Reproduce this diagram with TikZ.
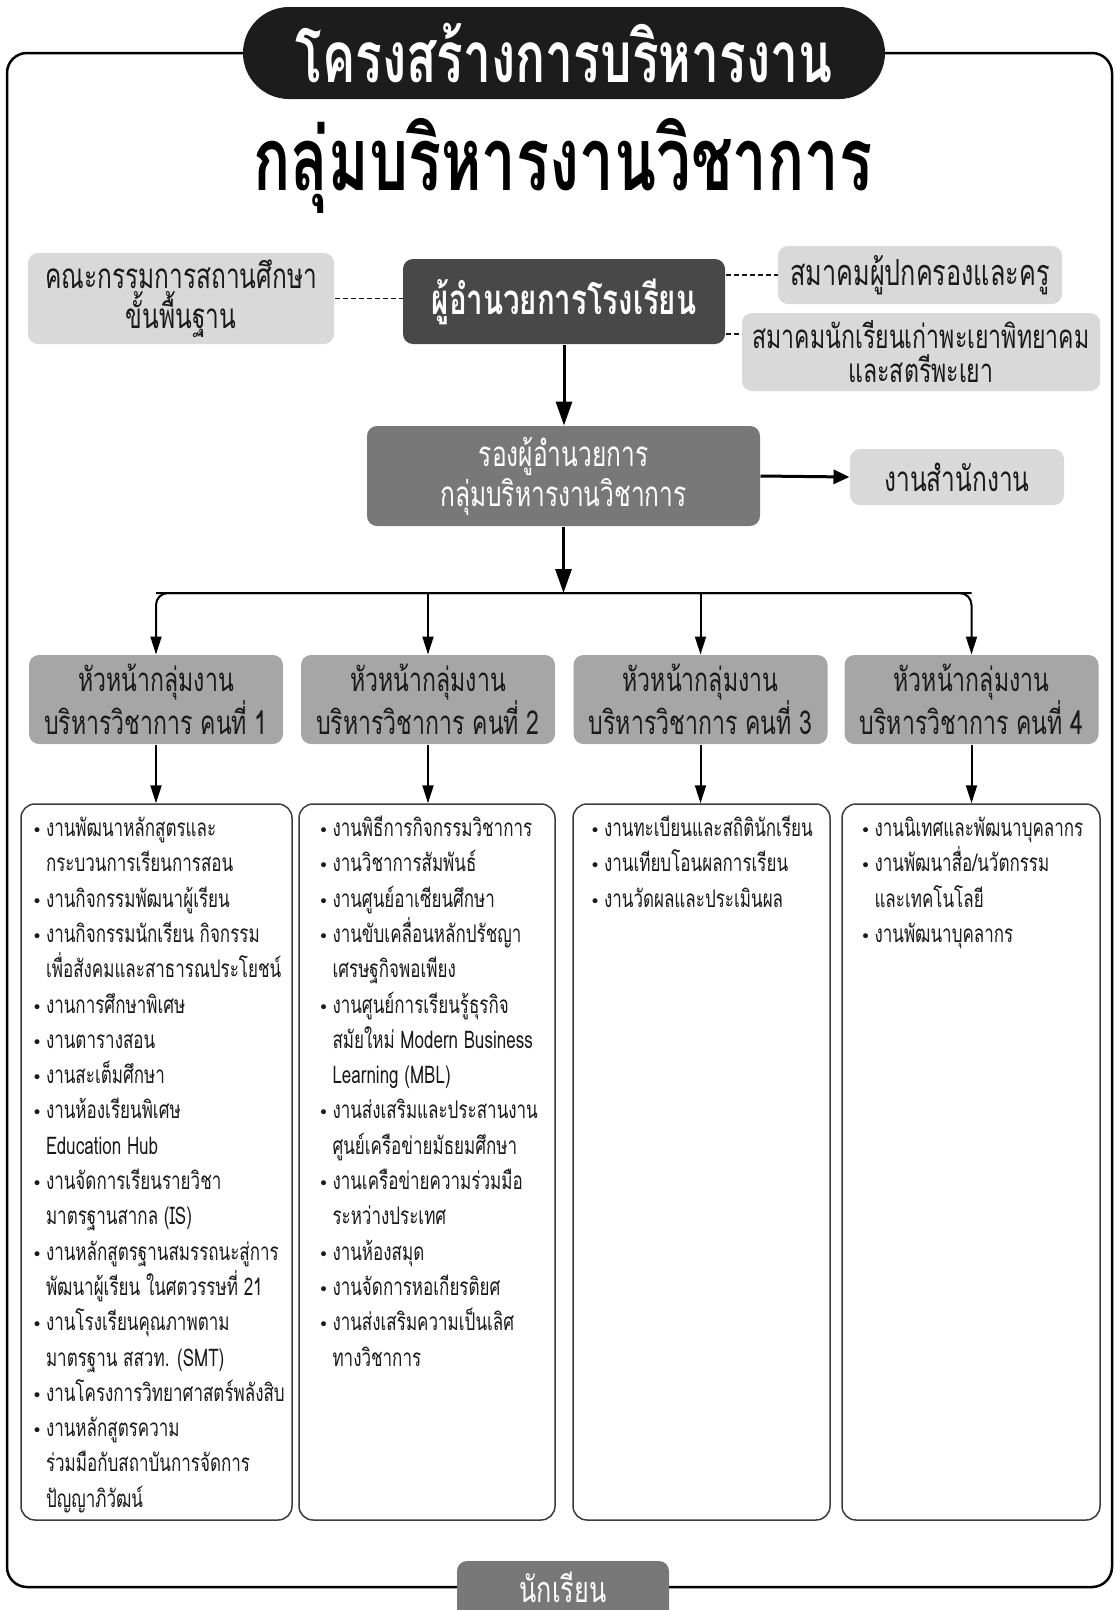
\documentclass[tikz,border=0pt]{standalone}
\usepackage{fontspec}
\setmainfont[Script=Thai,FakeStretch=0.7]{Loma}
\newfontfamily\bulfont{DejaVu Sans}
\usetikzlibrary{arrows.meta,calc}

\definecolor{titlefill}{HTML}{1C1C1C}
\definecolor{dirfill}{HTML}{484848}
\definecolor{depfill}{HTML}{787878}
\definecolor{headfill}{HTML}{A6A6A6}
\definecolor{lightfill}{HTML}{D9D9D9}
\definecolor{darktext}{HTML}{1A1A1A}
\definecolor{listline}{HTML}{3C3C3C}

\tikzset{every picture/.style={line width=1pt}}
\tikzset{
  frame/.style={draw=black, line width=2.5pt, rounded corners=20pt},
  titlepill/.style={fill=titlefill, text=white, rounded corners=46pt, minimum width=642pt, minimum height=92pt, font=\bfseries\fontsize{71}{80}\selectfont},
  subtitle/.style={text=black, font=\bfseries\fontsize{88}{96}\selectfont},
  lightbox/.style={fill=lightfill, text=darktext, rounded corners=10pt, align=center, font=\fontsize{35}{40}\selectfont},
  dirbox/.style={fill=dirfill, text=white, rounded corners=10pt, align=center, font=\bfseries\fontsize{42}{46}\selectfont},
  depbox/.style={fill=depfill, text=white, rounded corners=10pt, align=center, font=\fontsize{35}{40}\selectfont},
  headbox/.style={fill=headfill, text=darktext, rounded corners=10pt, align=center, minimum width=254pt, minimum height=89pt, font=\fontsize{33}{41}\selectfont},
  listbox/.style={draw=listline, line width=1.5pt, rounded corners=14pt, minimum height=716pt},
  listtxt/.style={anchor=north west, inner sep=0pt, align=left, text=darktext, font=\fontsize{24.3}{35.3}\selectfont},
  dashln/.style={draw=darktext, line width=1.5pt, dash pattern=on 5pt off 3pt},
  mainarr/.style={line width=3pt, -{Triangle[length=24pt,width=16pt]}},
  sidearr/.style={line width=3pt, -{Triangle[length=16pt,width=14pt]}},
  headarr/.style={line width=2pt, -{Triangle[length=18pt,width=11pt]}}
}

\newcommand{\itm}{\rule{0pt}{22pt}\makebox[14pt][l]{\bulfont\fontsize{17}{17}\selectfont •}}
\newcommand{\cnt}{\rule{0pt}{22pt}\hspace*{14pt}}

\begin{document}
\begin{tikzpicture}[x=1pt,y=1pt,yscale=-1,xscale=1]
        \useasboundingbox (0,0) rectangle (1116,1610);

        % outer frame
        \draw[frame] (7,53) rectangle (1112,1587);

        % titles
        \node[titlepill] (title) at (564,53) {โครงสร้างการบริหารงาน};
        \node[subtitle] (subtitle) at (563,166) {กลุ่มบริหารงานวิชาการ};

        % top row
        \node[lightbox, minimum width=306pt, minimum height=91pt] (board) at (181,298.5) {คณะกรรมการสถานศึกษา\\ขั้นพื้นฐาน};
        \node[dirbox, minimum width=322pt, minimum height=85pt] (dir) at (564,301.5) {ผู้อำนวยการโรงเรียน};
        \node[lightbox, minimum width=284pt, minimum height=58pt, font=\fontsize{36}{40}\selectfont] (parents) at (920,275) {สมาคมผู้ปกครองและครู};
        \node[lightbox, minimum width=358pt, minimum height=78pt, font=\fontsize{33}{34}\selectfont] (alumni) at (921,352) {สมาคมนักเรียนเก่าพะเยาพิทยาคม\\และสตรีพะเยา};

        % deputy and office
        \node[depbox, minimum width=393pt, minimum height=100pt] (dep) at (563.5,476) {รองผู้อำนวยการ\\กลุ่มบริหารงานวิชาการ};
        \node[lightbox, minimum width=214pt, minimum height=56pt] (office) at (957,477) {งานสำนักงาน};

        % group heads and their lists
        \foreach \i/\x in {1/156,2/428,3/700.5,4/971.5}
            \node[headbox] (head\i) at (\x,699.5) {หัวหน้ากลุ่มงาน\\บริหารวิชาการ คนที่ \i};
        \node[listbox, minimum width=271pt] (list1) at (156.5,1162) {};
        \node[listbox, minimum width=256pt] (list2) at (427,1162) {};
        \node[listbox, minimum width=257pt] (list3) at (701.5,1162) {};
        \node[listbox, minimum width=258pt] (list4) at (971,1162) {};

        \coordinate (bus) at (563.5,593);

        % students tab on the bottom edge
        \fill[depfill, rounded corners=10pt] (457,1614) |- (669,1561) -- (669,1614);
        \node[text=white, inner sep=0pt, font=\fontsize{36}{40}\selectfont] (students) at (563,1587) {นักเรียน};

        % dashed links
        \draw[dashln] (board.east) -- (board.east -| dir.west);
        \draw[dashln] (parents.west -| dir.east) -- (parents.west);
        \draw[dashln] ([yshift=-18pt]alumni.west -| dir.east) -- ([yshift=-18pt]alumni.west);

        % arrows
        \draw[mainarr] (dir.south) -- (dir.south |- dep.north);
        \draw[sidearr] (dep.east) -- (office.west);
        \draw[mainarr] (dep.south) -- (bus);
        \draw[headarr, rounded corners=12pt] (head1.north |- bus) -- (head4.north |- bus) -- (head4.north);
        \draw[headarr, rounded corners=12pt] (head4.north |- bus) -- (head1.north |- bus) -- (head1.north);
        \draw[headarr] (head2.north |- bus) -- (head2.north);
        \draw[headarr] (head3.north |- bus) -- (head3.north);
        \foreach \i in {1,...,4}
            \draw[headarr] (head\i.south) -- (head\i.south |- list\i.north);

        % list texts
        \node[listtxt] (items1) at (31.5,814) {\itm งานพัฒนาหลักสูตรและ\\\cnt กระบวนการเรียนการสอน\\\itm งานกิจกรรมพัฒนาผู้เรียน\\\itm งานกิจกรรมนักเรียน กิจกรรม\\\cnt เพื่อสังคมและสาธารณประโยชน์\\\itm งานการศึกษาพิเศษ\\\itm งานตารางสอน\\\itm งานสะเต็มศึกษา\\\itm งานห้องเรียนพิเศษ\\\cnt Education Hub\\\itm งานจัดการเรียนรายวิชา\\\cnt มาตรฐานสากล (IS)\\\itm งานหลักสูตรฐานสมรรถนะสู่การ\\\cnt พัฒนาผู้เรียน ในศตวรรษที่ 21\\\itm งานโรงเรียนคุณภาพตาม\\\cnt มาตรฐาน สสวท. (SMT)\\\itm งานโครงการวิทยาศาสตร์พลังสิบ\\\itm งานหลักสูตรความ\\\cnt ร่วมมือกับสถาบันการจัดการ\\\cnt ปัญญาภิวัฒน์};
        \node[listtxt] (items2) at (318,814) {\itm งานพิธีการกิจกรรมวิชาการ\\\itm งานวิชาการสัมพันธ์\\\itm งานศูนย์อาเซียนศึกษา\\\itm งานขับเคลื่อนหลักปรัชญา\\\cnt เศรษฐกิจพอเพียง\\\itm งานศูนย์การเรียนรู้ธุรกิจ\\\cnt สมัยใหม่ Modern Business\\\cnt Learning (MBL)\\\itm งานส่งเสริมและประสานงาน\\\cnt ศูนย์เครือข่ายมัธยมศึกษา\\\itm งานเครือข่ายความร่วมมือ\\\cnt ระหว่างประเทศ\\\itm งานห้องสมุด\\\itm งานจัดการหอเกียรติยศ\\\itm งานส่งเสริมความเป็นเลิศ\\\cnt ทางวิชาการ};
        \node[listtxt] (items3) at (589.5,814) {\itm งานทะเบียนและสถิตินักเรียน\\\itm งานเทียบโอนผลการเรียน\\\itm งานวัดผลและประเมินผล};
        \node[listtxt] (items4) at (860,814) {\itm งานนิเทศและพัฒนาบุคลากร\\\itm งานพัฒนาสื่อ/นวัตกรรม\\\cnt และเทคโนโลยี\\\itm งานพัฒนาบุคลากร};

\end{tikzpicture}
\end{document}
